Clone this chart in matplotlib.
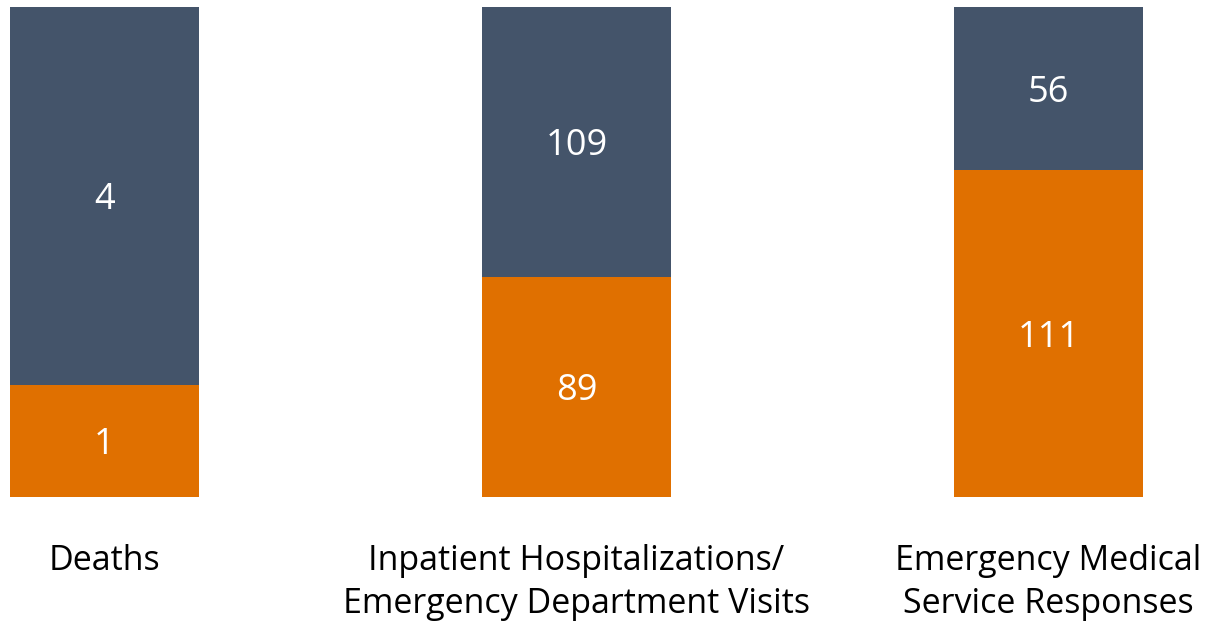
import numpy as np
import matplotlib
matplotlib.use('Agg')
import matplotlib.pyplot as plt

plt.rcParams['font.family'] = ['Open Sans', 'DejaVu Sans']

categories = ['Deaths', 'Inpatient Hospitalizations/\nEmergency Department Visits',
              'Emergency Medical\nService Responses']
# counts shown as labels
bottom_counts = [1, 89, 111]
top_counts = [4, 109, 56]
# share of bar height (percent)
bottom_share = [22.9, 44.9, 66.7]
top_share = [100 - v for v in bottom_share]

orange = '#E07000'
slate = '#44546A'

fig = plt.figure(figsize=(12.11, 6.23), dpi=100)
ax = fig.add_axes([0, 126/623, 1, 490/623])

x = np.arange(len(categories))
w = 189/472
ax.bar(x, bottom_share, width=w, color=orange)
ax.bar(x, top_share, width=w, bottom=bottom_share, color=slate)

for i in range(len(x)):
    ax.text(x[i], bottom_share[i]/2, str(bottom_counts[i]), ha='center', va='center_baseline',
            color='white', fontsize=26)
    ax.text(x[i], bottom_share[i] + top_share[i]/2, str(top_counts[i]), ha='center',
            va='center_baseline', color='white', fontsize=26)
    ax.text(x[i], -9.5, categories[i], ha='center', va='top', fontsize=24.5,
            linespacing=1.38, clip_on=False)

ax.set_xlim(-104.5/472, (1211-104.5)/472)
ax.set_ylim(0, 100)
ax.axis('off')

fig.savefig('out.png', dpi=100)
